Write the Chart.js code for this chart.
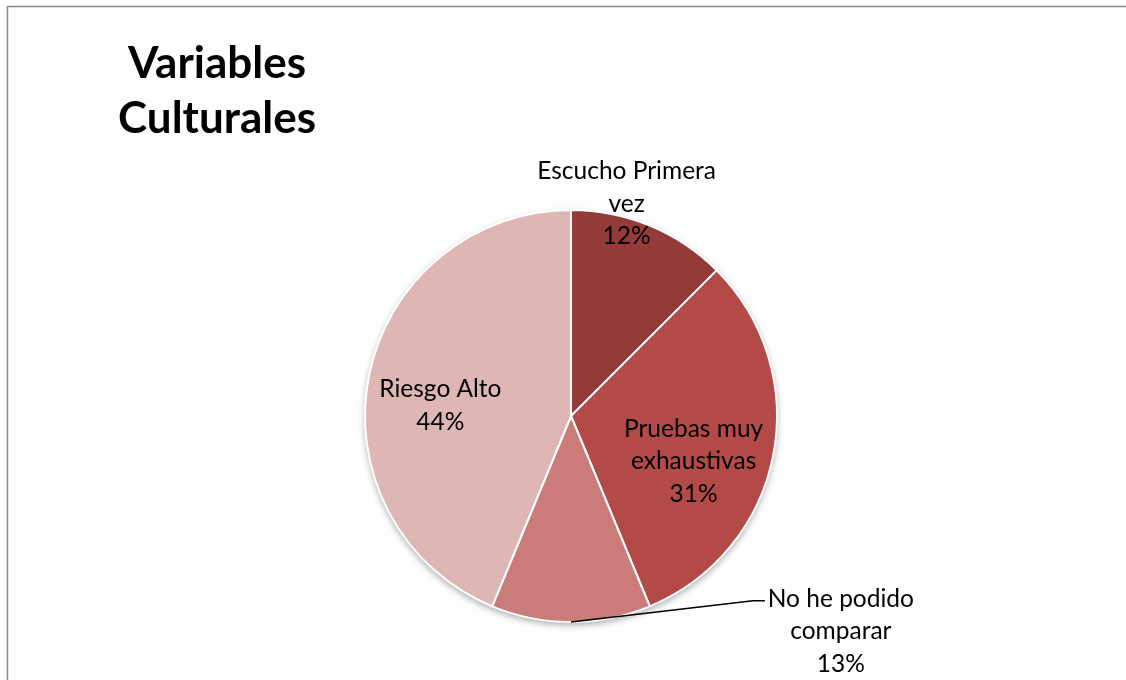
<!DOCTYPE html>
<html>
<head>
<meta charset="utf-8">
<script src="https://cdn.jsdelivr.net/npm/chart.js@4.4.0/dist/chart.umd.min.js"></script>
<style>
  html, body { margin: 0; padding: 0; background: #fff; }
  #wrap { position: relative; width: 1126px; height: 680px; }
</style>
</head>
<body>
<div id="wrap"><canvas id="myChart" width="1126" height="680"></canvas></div>
<script>
const categories = ["Escucho Primera vez", "Pruebas muy exhaustivas", "No he podido comparar", "Riesgo Alto"];
const values = [2, 5, 2, 7];
const percentLabels = ["12%", "31%", "13%", "44%"];
const labelLines = [
  ["Escucho Primera", "vez"],
  ["Pruebas muy", "exhaustivas"],
  ["No he podido", "comparar"],
  ["Riesgo Alto"],
];
const colors = ["#943A38", "#B34A47", "#CB7B7A", "#DFB6B6"];

// label centres relative to the pie centre, in units of radius
const labelPos = [
  [0.27, -1.03],
  [0.595, 0.22],
  [1.31, 1.045],
  [-0.634, -0.05],
];

const framePlugin = {
  id: "frame",
  beforeDraw(chart) {
    const c = chart.ctx;
    c.save();
    c.strokeStyle = "#8a8a8a";
    c.lineWidth = 1.5;
    c.beginPath();
    c.moveTo(7.5, 700);
    c.lineTo(7.5, 6.5);
    c.lineTo(1130, 6.5);
    c.stroke();
    c.fillStyle = "#000";
    c.font = "bold 44px Lato";
    c.textAlign = "center";
    c.textBaseline = "alphabetic";
    c.fillText("Variables", 217, 78);
    c.fillText("Culturales", 217, 133);
    c.restore();
  },
  beforeDatasetsDraw(chart) {
    const arc = chart.getDatasetMeta(0).data[0];
    const c = chart.ctx;
    c.save();
    c.shadowColor = "rgba(0,0,0,0.35)";
    c.shadowBlur = 7;
    c.shadowOffsetY = 3;
    c.fillStyle = "#fff";
    c.beginPath();
    c.arc(arc.x, arc.y, arc.outerRadius, 0, Math.PI * 2);
    c.fill();
    c.restore();
  },
};

const labelPlugin = {
  id: "pieLabels",
  afterDatasetsDraw(chart) {
    const c = chart.ctx;
    const arcs = chart.getDatasetMeta(0).data;
    const cx = arcs[0].x, cy = arcs[0].y, r = arcs[0].outerRadius;
    c.save();
    c.font = "24.5px Lato";
    c.fillStyle = "#000";
    c.textAlign = "center";
    c.textBaseline = "middle";
    arcs.forEach((arc, i) => {
      const lx = cx + labelPos[i][0] * r;
      const ly = cy + labelPos[i][1] * r;
      const lines = labelLines[i].concat([percentLabels[i]]);
      const lh = 32.5;
      lines.forEach((t, k) => {
        c.fillText(t, lx, ly + (k - (lines.length - 1) / 2) * lh);
      });
      if (i === 2) {
        const mid = (arc.startAngle + arc.endAngle) / 2;
        const ax = cx + Math.cos(mid) * r;
        const ay = cy + Math.sin(mid) * r;
        const ty = ly - lh;
        c.strokeStyle = "#000";
        c.lineWidth = 1.5;
        c.beginPath();
        c.moveTo(ax, ay);
        c.lineTo(lx - 88, ty + 2);
        c.lineTo(lx - 76, ty + 2);
        c.stroke();
      }
    });
    c.restore();
  },
};

const ctx = document.getElementById("myChart").getContext("2d");
const myChart = new Chart(ctx, {
  type: "pie",
  data: {
    labels: categories,
    datasets: [
      {
        data: values,
        backgroundColor: colors,
        borderColor: "#ffffff",
        borderWidth: 2,
      },
    ],
  },
  options: {
    responsive: false,
    animation: false,
    layout: {
      padding: { left: 364, right: 348, top: 209, bottom: 57 },
    },
    plugins: {
      legend: { display: false },
      tooltip: { enabled: false },
    },
  },
  plugins: [framePlugin, labelPlugin],
});
</script>
</body>
</html>
